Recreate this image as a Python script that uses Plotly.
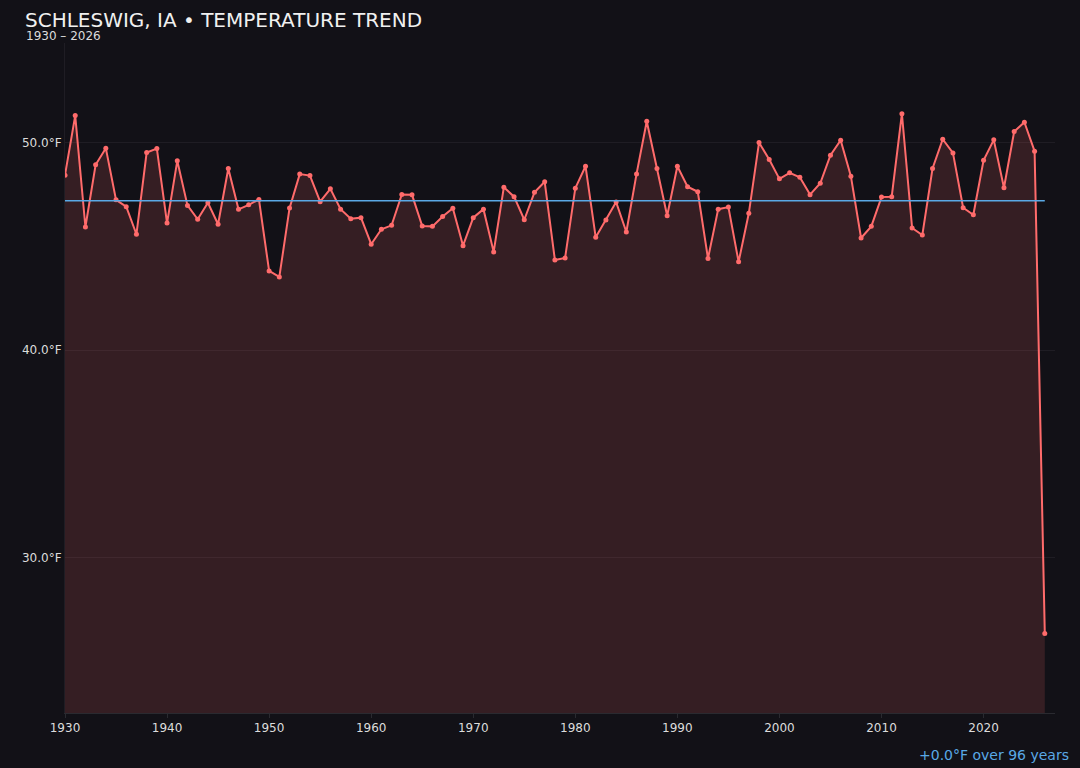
import plotly.graph_objects as go

# Annual mean temperature, Schleswig IA
years = list(range(1930, 2027))
temps = [
    48.43, 51.30, 45.93, 48.93, 49.73, 47.24, 46.91, 45.58, 49.52, 49.71,
    46.12, 49.12, 46.97, 46.30, 47.10, 46.06, 48.75, 46.78, 47.00, 47.26,
    43.81, 43.52, 46.84, 48.48, 48.41, 47.15, 47.77, 46.79, 46.33, 46.38,
    45.10, 45.82, 46.01, 47.50, 47.48, 45.98, 45.96, 46.44, 46.83, 45.03,
    46.38, 46.79, 44.73, 47.85, 47.39, 46.28, 47.60, 48.11, 44.34, 44.44,
    47.80, 48.86, 45.43, 46.27, 47.13, 45.69, 48.49, 51.03, 48.75, 46.47,
    48.86, 47.87, 47.63, 44.41, 46.79, 46.89, 44.25, 46.59, 50.00, 49.18,
    48.25, 48.54, 48.33, 47.49, 48.04, 49.39, 50.11, 48.38, 45.40, 45.96,
    47.37, 47.39, 51.39, 45.88, 45.54, 48.75, 50.16, 49.50, 46.86, 46.52,
    49.15, 50.13, 47.82, 50.53, 50.98, 49.58, 26.33,
]
trend_years = [1930, 2026]
trend_vals = [47.19, 47.19]

bg = '#121117'
red = '#ff6b6b'
blue = '#5aa9e6'

fig = go.Figure()

fig.add_trace(go.Scatter(x=years, y=temps, mode='lines+markers',
                         line=dict(color=red, width=2),
                         marker=dict(size=5, color=red),
                         fill='tozeroy', fillcolor='rgba(255,107,107,0.15)',
                         showlegend=False))

fig.add_trace(go.Scatter(x=trend_years, y=trend_vals, mode='lines',
                         line=dict(color=blue, width=1.5),
                         showlegend=False))

fig.update_layout(
    width=1080, height=768,
    paper_bgcolor=bg, plot_bgcolor=bg,
    font=dict(family='DejaVu Sans', color='#dcdcdc', size=12),
    margin=dict(l=65, r=25, t=43, b=55),
    showlegend=False,
)

fig.update_xaxes(range=[1930, 2027], dtick=10, tick0=1930,
                 showgrid=False, zeroline=False,
                 showline=True, linecolor='#2a2a30', linewidth=1,
                 ticks='outside', ticklen=4, tickcolor='#2a2a30',
                 tickfont=dict(size=12, color='#dcdcdc'))
fig.update_yaxes(range=[22.5, 54.8], dtick=10, tick0=0,
                 tickformat='.1f', ticksuffix='°F',
                 showgrid=True, gridcolor='#1f1d24', gridwidth=1,
                 zeroline=False,
                 showline=True, linecolor='#1f1d24',
                 tickfont=dict(size=12, color='#dcdcdc'))

fig.add_annotation(text='SCHLESWIG, IA • TEMPERATURE TREND',
                   xref='paper', yref='paper', x=-0.042, y=1.0,
                   yshift=23, xanchor='left', yanchor='middle',
                   showarrow=False, font=dict(size=20, color='#f0f0f0'))
fig.add_annotation(text='1930 – 2026',
                   xref='paper', yref='paper', x=-0.041, y=1.0,
                   yshift=7, xanchor='left', yanchor='middle',
                   showarrow=False, font=dict(size=12, color='#dcdcdc'))
fig.add_annotation(text='+0.0°F over 96 years',
                   xref='paper', yref='paper', x=1.016, y=0,
                   yshift=-42, xanchor='right', yanchor='middle',
                   showarrow=False, font=dict(size=14, color=blue))

# drop the page's default body margin so the figure fills the window
fig.write_html('out.html', config={'displayModeBar': False},
               post_script="document.body.style.margin='0';")
